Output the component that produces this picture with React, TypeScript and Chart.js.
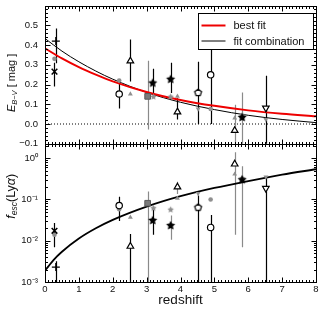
import React, { useEffect, useRef } from 'react';
import { Chart, registerables } from 'chart.js';

Chart.register(...registerables);

const FONT = '"Liberation Sans", Arial, Helvetica, sans-serif';

// ---- fit curves ----
const fitZ = [0, 0.5, 1, 1.5, 2, 3, 4, 5, 6, 7, 8];
const bestFitEbv = [0.383, 0.332, 0.288, 0.25, 0.216, 0.162, 0.122, 0.092, 0.069, 0.052, 0.039];
const combFitEbv = [0.433, 0.369, 0.315, 0.268, 0.227, 0.16, 0.11, 0.073, 0.044, 0.023, 0.007];
const fescFitZ = [0, 0.1, 0.25, 0.5, 1, 1.5, 2, 3, 4, 5, 6, 7, 8];
const fescFit = [0.0019, 0.0024, 0.0034, 0.0054, 0.0113, 0.02, 0.032, 0.067, 0.12, 0.19, 0.28, 0.4, 0.54];
const zeroLineZ = [0, 8];
const zeroLineEbv = [0, 0];

// ---- main (black) measurements ----
const zMain = [0.32, 0.28, 2.19, 2.52, 3.03, 3.18, 3.71, 3.91, 4.52, 4.89, 5.6, 5.82, 6.52];
const shapeMain = ['plus', 'cross', 'circle', 'triangle', 'square', 'star', 'star', 'triangle', 'pentagon', 'circle', 'triangle', 'star', 'triangleDown'];
const ebvMain = [0.42, 0.265, 0.152, 0.319, 0.14, 0.21, 0.229, 0.061, 0.16, 0.249, -0.033, 0.036, 0.081];
const ebvLo = [0.307, 0.19, 0.078, 0.215, -0.028, 0.14, 0.157, 0.023, 0.0, 0.0, -0.15, -0.15, -0.15];
const ebvHi = [0.483, 0.31, 0.207, 0.428, 0.32, 0.28, 0.31, 0.13, 0.315, 0.45, 0.098, 0.16, 0.244];
const ebvBarTone = ['k', 'k', 'k', 'k', 'g', 'k', 'k', 'k', 'k', 'k', 'g', 'g', 'k'];
const fescMain = [0.0023, 0.0174, 0.071, 0.0073, 0.081, 0.032, 0.024, 0.2, 0.065, 0.021, 0.72, 0.31, 0.186];
const fescLo = [0.0005, 0.007, 0.03, 0.0005, 0.0005, 0.014, 0.0105, 0.135, 0.0005, 0.0005, 0.014, 0.007, 0.0005];
const fescHi = [0.0032, 0.027, 0.117, 0.0145, 0.155, 0.056, 0.041, 0.27, 0.124, 0.042, 1.4, 0.64, 0.34];
const fescBarTone = ['k', 'k', 'k', 'k', 'g', 'k', 'g', 'g', 'k', 'k', 'g', 'g', 'k'];

// ---- secondary (grey) measurements ----
const zGrey = [0.28, 2.19, 2.52, 3.2, 3.71, 3.91, 4.52, 4.89, 5.6, 5.82, 6.52];
const shapeGrey = ['circle', 'circle', 'triangle', 'star', 'star', 'triangle', 'triangleDown', 'circle', 'triangle', 'star', 'triangleDown'];
const ebvGrey = [0.33, 0.22, 0.152, 0.14, 0.14, 0.14, 0.076, 0.076, 0.03, 0.045, 0.023];
const fescGrey = [0.014, 0.058, 0.037, 0.063, 0.058, 0.107, 0.14, 0.1, 0.41, 0.33, 0.35];

// ---- ticks ----
const xTickValues = [0, 1, 2, 3, 4, 5, 6, 7, 8];
const xTickLabels = ['0', '1', '2', '3', '4', '5', '6', '7', '8'];
const ebvTickValues = [-0.1, 0, 0.1, 0.2, 0.3, 0.4, 0.5];
const ebvTickLabels = ['\u22120.1', '0.0', '0.1', '0.2', '0.3', '0.4', '0.5'];
const fescTickValues = [0.001, 0.01, 0.1, 1];
const fescTickLabels = ['10\u207B\u00B3', '10\u207B\u00B2', '10\u207B\u00B9', '10\u2070'];

const legendLabels = ['best fit', 'fit combination'];

const GREY = '#8f8f8f';
const BAR_GREY = '#8a8a8a';

function makeStar(rOuter: number, fill: string) {
  const size = Math.ceil(rOuter * 2 + 2);
  const c = document.createElement('canvas');
  c.width = size; c.height = size;
  const g = c.getContext('2d')!;
  const cx = size / 2, cy = size / 2 + 0.5;
  g.beginPath();
  for (let k = 0; k < 10; k++) {
    const r = k % 2 === 0 ? rOuter : rOuter * 0.5;
    const a = -Math.PI / 2 + (k * Math.PI) / 5;
    const px = cx + r * Math.cos(a), py = cy + r * Math.sin(a);
    if (k === 0) g.moveTo(px, py); else g.lineTo(px, py);
  }
  g.closePath();
  g.fillStyle = fill;
  g.fill();
  return c;
}

function makePentagon(r: number) {
  const size = Math.ceil(r * 2 + 3);
  const c = document.createElement('canvas');
  c.width = size; c.height = size;
  const g = c.getContext('2d')!;
  const cx = size / 2, cy = size / 2 + 0.3;
  g.beginPath();
  for (let k = 0; k < 5; k++) {
    const a = -Math.PI / 2 + (k * 2 * Math.PI) / 5;
    const px = cx + r * Math.cos(a), py = cy + r * Math.sin(a);
    if (k === 0) g.moveTo(px, py); else g.lineTo(px, py);
  }
  g.closePath();
  g.fillStyle = '#fff';
  g.fill();
  g.lineWidth = 1.2;
  g.strokeStyle = '#000';
  g.stroke();
  return c;
}

function styleFor(shape: string, grey: boolean, sprites: any) {
  if (grey) {
    switch (shape) {
      case 'circle': return { s: 'circle', rot: 0, r: 2.3, bg: GREY, bc: GREY, bw: 0 };
      case 'triangle': return { s: 'triangle', rot: 0, r: 2.8, bg: GREY, bc: GREY, bw: 0 };
      case 'triangleDown': return { s: 'triangle', rot: 180, r: 2.8, bg: GREY, bc: GREY, bw: 0 };
      case 'star': return { s: sprites.greyStar, rot: 0, r: 3, bg: GREY, bc: GREY, bw: 0 };
    }
  }
  switch (shape) {
    case 'plus': return { s: 'cross', rot: 0, r: 4, bg: '#000', bc: '#000', bw: 1.3 };
    case 'cross': return { s: 'crossRot', rot: 0, r: 4, bg: '#000', bc: '#000', bw: 1.5 };
    case 'circle': return { s: 'circle', rot: 0, r: 3.2, bg: '#fff', bc: '#000', bw: 1.2 };
    case 'triangle': return { s: 'triangle', rot: 0, r: 3.8, bg: '#fff', bc: '#000', bw: 1.2 };
    case 'triangleDown': return { s: 'triangle', rot: 180, r: 3.8, bg: '#fff', bc: '#000', bw: 1.2 };
    case 'square': return { s: 'rect', rot: 0, r: 4, bg: '#7a7a7a', bc: '#5a5a5a', bw: 1 };
    case 'star': return { s: sprites.blackStar, rot: 0, r: 4, bg: '#000', bc: '#000', bw: 0 };
    case 'pentagon': return { s: sprites.pentagon, rot: 0, r: 4, bg: '#fff', bc: '#000', bw: 1.2 };
  }
  return { s: 'circle', rot: 0, r: 3, bg: '#000', bc: '#000', bw: 1 };
}

function pointDataset(zs: number[], vals: number[], shapes: string[], grey: boolean, axis: string, sprites: any, extra: any = {}) {
  const st = shapes.map((sh) => styleFor(sh, grey, sprites));
  return {
    label: '',
    data: zs.map((z, i) => ({ x: z, y: vals[i] })),
    yAxisID: axis,
    showLine: false,
    pointStyle: st.map((o) => o.s),
    rotation: st.map((o) => o.rot),
    pointRadius: st.map((o) => o.r),
    pointBackgroundColor: st.map((o) => o.bg),
    pointBorderColor: st.map((o) => o.bc),
    pointBorderWidth: st.map((o) => o.bw),
    ...extra,
  };
}

const errorBarPlugin = {
  id: 'errbars',
  beforeDatasetsDraw(chart: any) {
    const { ctx, chartArea } = chart;
    chart.data.datasets.forEach((ds: any, i: number) => {
      if (!ds.errLo) return;
      const meta = chart.getDatasetMeta(i);
      const ys = chart.scales[ds.yAxisID];
      ctx.save();
      ctx.beginPath();
      ctx.rect(chartArea.left, ys.top, chartArea.right - chartArea.left, ys.bottom - ys.top);
      ctx.clip();
      meta.data.forEach((pt: any, j: number) => {
        const x = Math.round(pt.x) + 0.5;
        const y1 = ys.getPixelForValue(ds.errLo[j]);
        const y2 = ys.getPixelForValue(ds.errHi[j]);
        ctx.strokeStyle = ds.errTone[j] === 'g' ? BAR_GREY : '#000';
        ctx.lineWidth = 1.2;
        ctx.beginPath();
        ctx.moveTo(x, y1);
        ctx.lineTo(x, y2);
        ctx.stroke();
      });
      ctx.restore();
    });
  },
};

const framePlugin = {
  id: 'frame',
  afterDatasetsDraw(chart: any) {
    const { ctx, chartArea } = chart;
    const xs = chart.scales.x;
    const panels = [chart.scales.yE, chart.scales.yF];
    ctx.save();
    ctx.strokeStyle = '#000';
    ctx.lineWidth = 1;
    for (const s of panels) {
      const L = Math.round(chartArea.left) + 0.5;
      const R = Math.round(chartArea.right) + 0.5;
      const T = Math.round(s.top) + 0.5;
      const B = Math.round(s.bottom) + 0.5;
      ctx.strokeRect(L, T, R - L, B - T);
      ctx.beginPath();
      for (let i = 0; i <= 80; i++) {
        const px = Math.round(xs.getPixelForValue(i / 10)) + 0.5;
        const len = i % 10 === 0 ? 5 : 2.5;
        ctx.moveTo(px, T); ctx.lineTo(px, T + len);
        ctx.moveTo(px, B); ctx.lineTo(px, B - len);
      }
      const yt: { v: number; major: boolean }[] = [];
      if (s.type === 'logarithmic') {
        for (let e = -3; e <= 0; e++) {
          for (let m = 1; m <= 9; m++) {
            const v = m * Math.pow(10, e);
            if (v <= s.max * 1.0001) yt.push({ v, major: m === 1 });
          }
        }
      } else {
        for (let i = -5; i <= 30; i++) yt.push({ v: i * 0.02, major: i % 5 === 0 });
      }
      for (const t of yt) {
        const py = Math.round(s.getPixelForValue(t.v)) + 0.5;
        const len = t.major ? 5 : 2.5;
        ctx.moveTo(L, py); ctx.lineTo(L + len, py);
        ctx.moveTo(R, py); ctx.lineTo(R - len, py);
      }
      ctx.stroke();
    }
    ctx.restore();
  },
};

function drawRich(ctx: CanvasRenderingContext2D, parts: any[], cx: number, cy: number) {
  ctx.save();
  ctx.translate(cx, cy);
  ctx.rotate(-Math.PI / 2);
  ctx.textBaseline = 'middle';
  ctx.textAlign = 'left';
  ctx.fillStyle = '#111';
  let total = 0;
  for (const p of parts) { ctx.font = p.f; total += ctx.measureText(p.t).width; }
  let x = -total / 2;
  for (const p of parts) {
    ctx.font = p.f;
    ctx.fillText(p.t, x, p.dy || 0);
    x += ctx.measureText(p.t).width;
  }
  ctx.restore();
}

const decorPlugin = {
  id: 'decor',
  afterDraw(chart: any) {
    const { ctx, chartArea } = chart;
    const yE = chart.scales.yE, yF = chart.scales.yF;
    drawRich(ctx, [
      { t: 'E', f: `italic 11px ${FONT}` },
      { t: 'B\u2212V', f: `italic 7.5px ${FONT}`, dy: 3 },
      { t: ' [ mag ]', f: `11px ${FONT}` },
    ], 12, yE.top + 0.56 * (yE.bottom - yE.top));
    drawRich(ctx, [
      { t: 'f', f: `italic 12.5px ${FONT}` },
      { t: 'esc', f: `italic 8.5px ${FONT}`, dy: 3 },
      { t: '(Ly', f: `12.5px ${FONT}` },
      { t: '\u03B1', f: `italic 12.5px ${FONT}` },
      { t: ')', f: `12.5px ${FONT}` },
    ], 12, yF.top + 0.38 * (yF.bottom - yF.top));

    const ds = chart.data.datasets;
    const lineSets = ds.filter((d: any) => d.legendRow !== undefined);
    const bx = Math.round(chartArea.right) - 118 + 0.5;
    const by = Math.round(chartArea.top) + 7 + 0.5;
    const bw = 115, bh = 36;
    ctx.save();
    ctx.fillStyle = '#fff';
    ctx.fillRect(bx, by, bw, bh);
    ctx.strokeStyle = '#000';
    ctx.lineWidth = 1;
    ctx.strokeRect(bx, by, bw, bh);
    ctx.font = `11px ${FONT}`;
    ctx.textBaseline = 'middle';
    ctx.textAlign = 'left';
    for (const d of lineSets) {
      const ry = by + 12 + d.legendRow * 15.5;
      ctx.strokeStyle = d.borderColor;
      ctx.lineWidth = d.borderWidth;
      ctx.beginPath();
      ctx.moveTo(bx + 3, ry);
      ctx.lineTo(bx + 27, ry);
      ctx.stroke();
      ctx.fillStyle = '#111';
      ctx.fillText(d.label, bx + 35, ry + 0.5);
    }
    ctx.restore();
  },
};

function fixV(s: any) { s.width = 45; s.paddingTop = 0; s.paddingBottom = 0; }

export default function App() {
  const ref = useRef<HTMLCanvasElement | null>(null);
  useEffect(() => {
    document.body.style.margin = '0';
    const sprites = {
      blackStar: makeStar(4.8, '#000'),
      greyStar: makeStar(3.4, GREY),
      pentagon: makePentagon(3.6),
    };
    const datasets: any[] = [
      pointDataset(zMain, ebvMain, shapeMain, false, 'yE', sprites, { errLo: ebvLo, errHi: ebvHi, errTone: ebvBarTone }),
      pointDataset(zMain, fescMain, shapeMain, false, 'yF', sprites, { errLo: fescLo, errHi: fescHi, errTone: fescBarTone }),
      pointDataset(zGrey, ebvGrey, shapeGrey, true, 'yE', sprites),
      pointDataset(zGrey, fescGrey, shapeGrey, true, 'yF', sprites),
      {
        label: legendLabels[0], legendRow: 0,
        data: fitZ.map((z, i) => ({ x: z, y: bestFitEbv[i] })),
        yAxisID: 'yE', showLine: true, pointRadius: 0, borderColor: '#ee0000', borderWidth: 2,
        cubicInterpolationMode: 'monotone',
      },
      {
        label: legendLabels[1], legendRow: 1,
        data: fitZ.map((z, i) => ({ x: z, y: combFitEbv[i] })),
        yAxisID: 'yE', showLine: true, pointRadius: 0, borderColor: '#000', borderWidth: 1,
        cubicInterpolationMode: 'monotone',
      },
      {
        label: '',
        data: fescFitZ.map((z, i) => ({ x: z, y: fescFit[i] })),
        yAxisID: 'yF', showLine: true, pointRadius: 0, borderColor: '#000', borderWidth: 1.8,
        cubicInterpolationMode: 'monotone',
      },
      {
        label: '',
        data: zeroLineZ.map((z, i) => ({ x: z, y: zeroLineEbv[i] })),
        yAxisID: 'yE', showLine: true, pointRadius: 0, borderColor: '#000', borderWidth: 1,
        borderDash: [1, 2],
      },
    ];
    const tickFont = { family: FONT, size: 9.5 };
    const chart = new Chart(ref.current!, {
      type: 'scatter',
      data: { datasets },
      options: {
        animation: false,
        responsive: false,
        devicePixelRatio: 1,
        events: [],
        layout: { padding: { top: 5, right: 9, bottom: 4, left: 0 } },
        plugins: { legend: { display: false }, tooltip: { enabled: false } },
        scales: {
          x: {
            type: 'linear', position: 'bottom', min: 0, max: 8,
            grid: { display: false, drawTicks: false }, border: { display: false },
            ticks: {
              padding: 2, font: tickFont, color: '#111', autoSkip: false, maxRotation: 0,
              callback: (v: any) => { const i = xTickValues.indexOf(Number(v)); return i >= 0 ? xTickLabels[i] : ''; },
            },
            afterBuildTicks: (s: any) => { s.ticks = xTickValues.map((v) => ({ value: v })); },
            afterFit: (s: any) => { s.height = 26; s.paddingLeft = 0; s.paddingRight = 0; },
            title: { display: true, text: 'redshift', font: { family: FONT, size: 13.5 }, color: '#111', padding: 0 },
          },
          yF: {
            type: 'logarithmic', position: 'left', stack: 'panels', stackWeight: 1, min: 0.001, max: 2.24,
            grid: { display: false, drawTicks: false }, border: { display: false },
            ticks: {
              padding: 7, font: tickFont, color: '#111', autoSkip: false,
              callback: (v: any, i: number) => fescTickLabels[i] ?? '',
            },
            afterBuildTicks: (s: any) => { s.ticks = fescTickValues.map((v) => ({ value: v })); },
            afterFit: fixV,
          },
          yE: {
            type: 'linear', position: 'left', stack: 'panels', stackWeight: 1, min: -0.1, max: 0.6,
            grid: { display: false, drawTicks: false }, border: { display: false },
            ticks: {
              padding: 7, font: tickFont, color: '#111', autoSkip: false,
              callback: (v: any, i: number) => ebvTickLabels[i] ?? '',
            },
            afterBuildTicks: (s: any) => { s.ticks = ebvTickValues.map((v) => ({ value: v })); },
            afterFit: fixV,
          },
        },
      } as any,
      plugins: [errorBarPlugin, framePlugin, decorPlugin],
    });
    return () => chart.destroy();
  }, []);
  return (
    <div style={{ width: 325, height: 312 }}>
      <canvas ref={ref} width={325} height={312} style={{ display: 'block' }} />
    </div>
  );
}
